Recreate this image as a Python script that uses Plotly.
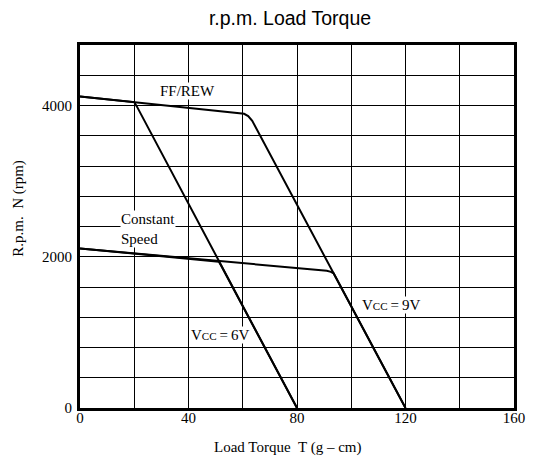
import plotly.graph_objects as go

# Torque (g-cm) and speed (rpm)
ffrew_6v_t = [0, 20, 21, 80]
ffrew_6v_n = [4120, 4045, 3985, 0]

ffrew_9v_t = [0, 20, 58, 60.5, 62, 63.5, 120]
ffrew_9v_n = [4120, 4045, 3903, 3890, 3860, 3797, 0]

const_6v_t = [0, 50, 51.2, 52, 80]
const_6v_n = [2110, 1948, 1935, 1884, 0]

const_9v_t = [0, 91, 92.5, 93.5, 120]
const_9v_n = [2110, 1815, 1800, 1781, 0]

x_ticks = [0, 40, 80, 120, 160]
y_ticks = [0, 2000, 4000]

SERIF = "Liberation Serif"
fig = go.Figure()
for t, n in [(ffrew_6v_t, ffrew_6v_n), (ffrew_9v_t, ffrew_9v_n),
             (const_6v_t, const_6v_n), (const_9v_t, const_9v_n)]:
    fig.add_trace(go.Scatter(x=t, y=n, mode="lines",
                             line=dict(color="black", width=2),
                             showlegend=False, hoverinfo="skip"))

ann_font = dict(family=SERIF, size=15, color="black")
fig.add_annotation(x=39.6, y=4190, text="FF/REW", showarrow=False,
                   font=ann_font, bgcolor="white", borderpad=0)
fig.add_annotation(x=14.9, y=2370, text="Constant<br>Speed", showarrow=False,
                   xanchor="left", align="left", font=ann_font,
                   bgcolor="white", borderpad=0)
fig.add_annotation(x=40.6, y=960, xanchor="left",
                   text="V<span style='font-size:11px'>CC</span>\u2009=\u20096V",
                   showarrow=False, font=ann_font, bgcolor="white", borderpad=0)
fig.add_annotation(x=103.5, y=1360, xanchor="left",
                   text="V<span style='font-size:11px'>CC</span>\u2009=\u20099V",
                   showarrow=False, font=ann_font, bgcolor="white", borderpad=0)

fig.add_annotation(xref="paper", yref="paper", x=0.48, y=-0.11,
                   text="Load Torque\u00a0\u00a0T (g \u2013 cm)", showarrow=False,
                   font=ann_font, yanchor="middle")
fig.add_annotation(xref="paper", yref="paper", x=-0.141, y=0.551,
                   text="R.p.m.\u00a0\u00a0N (rpm)", showarrow=False,
                   font=ann_font, textangle=-90, xanchor="center", yanchor="middle")

# page body has an 8px margin, so the figure is sized 8px smaller
W, H = 529, 451
fig.update_layout(
    width=W, height=H,
    margin=dict(l=72, r=17, t=37, b=51),
    paper_bgcolor="white", plot_bgcolor="white",
    title=dict(text="r.p.m. Load Torque", xref="container", x=(290 - 8) / W,
               y=1 - (18 - 8) / H, yref="container", xanchor="center", yanchor="middle",
               font=dict(family="Liberation Sans", size=19.5, color="black")),
)
fig.update_xaxes(range=[0, 160], tickvals=x_ticks, ticktext=[str(v) for v in x_ticks],
                 showline=True, linewidth=3, linecolor="black", mirror=True,
                 showgrid=True, gridcolor="black", gridwidth=1, zeroline=False,
                 ticks="", ticklabelstandoff=-6,
                 tickfont=dict(family=SERIF, size=15, color="black"),
                 minor=dict(dtick=20, showgrid=True, gridcolor="black", gridwidth=1))
fig.update_yaxes(range=[0, 4800], tickvals=y_ticks, ticktext=[str(v) for v in y_ticks],
                 showline=True, linewidth=3, linecolor="black", mirror=True,
                 showgrid=True, gridcolor="black", gridwidth=1, zeroline=False,
                 ticks="", ticklabelstandoff=2,
                 tickfont=dict(family=SERIF, size=15, color="black"),
                 minor=dict(dtick=400, showgrid=True, gridcolor="black", gridwidth=1))

fig.write_html("out.html")
